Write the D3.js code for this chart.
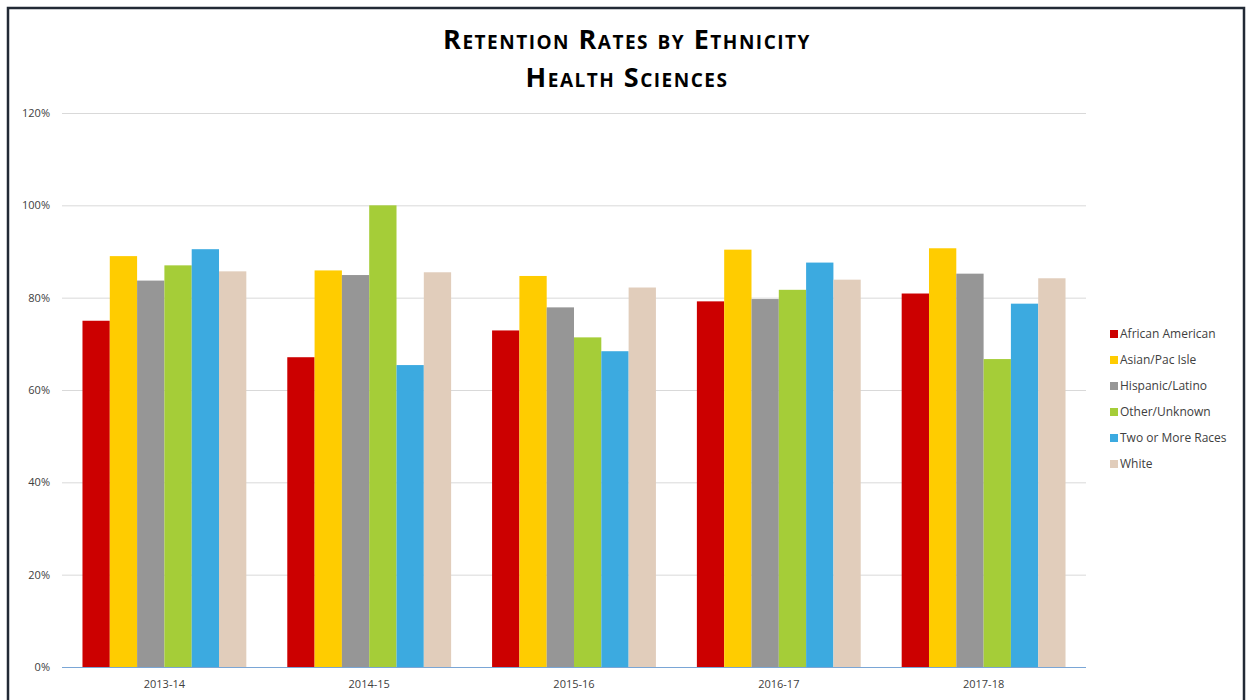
<!DOCTYPE html>
<html>
<head>
<meta charset="utf-8">
<script src="https://cdn.jsdelivr.net/npm/d3@7"></script>
<style>
	html, body { margin: 0; padding: 0; background: #fff; }
	svg { display: block; }
</style>
</head>
<body>
<svg id="chart" width="1249" height="700"></svg>
<script>
;(() => {
	'use strict';

	// chart data
	const years = ['2013-14', '2014-15', '2015-16', '2016-17', '2017-18'];
	const groups = ['African American', 'Asian/Pac Isle', 'Hispanic/Latino', 'Other/Unknown', 'Two or More Races', 'White'];
	const africanAmerican = [0.75, 0.671, 0.729, 0.792, 0.809];
	const asianPacIsle = [0.890, 0.859, 0.847, 0.904, 0.907];
	const hispanicLatino = [0.837, 0.849, 0.779, 0.797, 0.852];
	const otherUnknown = [0.870, 1.00, 0.714, 0.817, 0.667];
	const twoOrMore = [0.905, 0.654, 0.684, 0.876, 0.787];
	const white = [0.857, 0.855, 0.822, 0.839, 0.842];
	const yTicks = [0, 0.2, 0.4, 0.6, 0.8, 1.0, 1.2];

	const seriesValues = [africanAmerican, asianPacIsle, hispanicLatino, otherUnknown, twoOrMore, white];
	const colors = ['#cc0000', '#ffcc00', '#969696', '#a5cd38', '#3caae0', '#e1cdbb'];

	const svg = d3.select('#chart');

	// outer frame (bottom edge runs off the picture)
	svg.append('path')
		.attr('d', 'M8,702 L8,8 L1244,8 L1244,702')
		.attr('fill', 'none')
		.attr('stroke', '#222a35')
		.attr('stroke-width', 2.5);

	// title
	const title = svg.append('text')
		.attr('x', 627)
		.attr('text-anchor', 'middle')
		.style('font-family', '"Open Sans", sans-serif')
		.style('font-weight', 'bold')
		.style('font-variant', 'small-caps')
		.style('font-size', '27px')
		.style('letter-spacing', '1.5px')
		.style('fill', '#000');
	title.append('tspan').attr('x', 627).attr('y', 49).text('Retention Rates by Ethnicity');
	title.append('tspan').attr('x', 627).attr('y', 87).text('Health Sciences');

	const left = 62, right = 1086, top = 113, bottom = 667;

	const x0 = d3.scaleBand().domain(years).range([left, right]).paddingInner(0.2).paddingOuter(0.1);
	const x1 = d3.scaleBand().domain(groups).range([0, x0.bandwidth()]);
	const y = d3.scaleLinear().domain([0, 1.2]).range([bottom, top]);

	// gridlines
	svg.append('g')
		.selectAll('line')
		.data(yTicks.slice(1))
		.join('line')
		.attr('x1', left)
		.attr('x2', right)
		.attr('y1', d => y(d) + 0.5)
		.attr('y2', d => y(d) + 0.5)
		.attr('stroke', '#d9d9d9')
		.attr('stroke-width', 1);

	// bars
	const rows = years.map((yr, i) => ({ year: yr, values: groups.map((g, j) => ({ group: g, value: seriesValues[j][i], color: colors[j] })) }));

	svg.append('g')
		.selectAll('g')
		.data(rows)
		.join('g')
		.attr('transform', d => `translate(${x0(d.year)},0)`)
		.selectAll('rect')
		.data(d => d.values)
		.join('rect')
		.attr('x', d => x1(d.group))
		.attr('width', x1.bandwidth())
		.attr('y', d => y(d.value))
		.attr('height', d => bottom - y(d.value))
		.attr('fill', d => d.color);

	// axis baseline
	svg.append('line')
		.attr('x1', left).attr('x2', right)
		.attr('y1', bottom + 0.5).attr('y2', bottom + 0.5)
		.attr('stroke', '#7aa6d6')
		.attr('stroke-width', 1.2);

	// y tick labels
	svg.append('g')
		.selectAll('text')
		.data(yTicks)
		.join('text')
		.attr('x', 50)
		.attr('y', d => y(d) + 4)
		.attr('text-anchor', 'end')
		.style('font-family', '"Open Sans", sans-serif')
		.style('font-size', '11px')
		.style('fill', '#404040')
		.text(d => d3.format('.0%')(d));

	// x labels
	svg.append('g')
		.selectAll('text')
		.data(years)
		.join('text')
		.attr('x', d => x0(d) + x0.bandwidth() / 2)
		.attr('y', 688)
		.attr('text-anchor', 'middle')
		.style('font-family', '"Open Sans", sans-serif')
		.style('font-size', '11px')
		.style('fill', '#404040')
		.text(d => d);

	// legend
	const legend = svg.append('g')
		.selectAll('g')
		.data(groups)
		.join('g')
		.attr('transform', (d, i) => `translate(1110,${334 + i * 26})`);

	legend.append('rect')
		.attr('x', 0).attr('y', -4)
		.attr('width', 8).attr('height', 8)
		.attr('fill', (d, i) => colors[i]);

	legend.append('text')
		.attr('x', 10)
		.attr('y', 4)
		.style('font-family', '"Open Sans", sans-serif')
		.style('font-size', '12px')
		.style('fill', '#404040')
		.text(d => d);
})();
</script>
</body>
</html>
